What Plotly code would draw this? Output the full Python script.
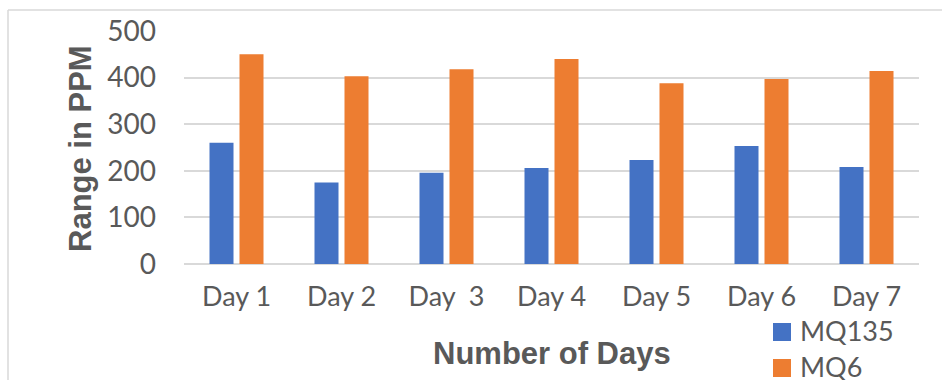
import plotly.graph_objects as go

# Daily gas readings from the two sensors
days = ["Day 1", "Day 2", "Day\u00a0 3", "Day 4", "Day 5", "Day 6", "Day 7"]
series_names = ["MQ135", "MQ6"]
mq135 = [260, 175, 196, 206, 223, 253, 208]
mq6 = [450, 403, 418, 440, 388, 397, 414]
y_ticks = [0, 100, 200, 300, 400, 500]

colors = ["#4472C4", "#ED7D31"]
text_grey = "#595959"
grid_grey = "#D9D9D9"

W, H = 942, 380
L, R, T, B = 184, 23, 31, 116
plot_w = W - L - R
plot_h = H - T - B


def px_x(px):
    return (px - L) / plot_w


def px_y(py):
    return (H - B - py) / plot_h


fig = go.Figure()
for name, vals, col in zip(series_names, [mq135, mq6], colors):
    fig.add_trace(go.Bar(x=days, y=vals, name=name, marker=dict(color=col, line=dict(width=0)),
                         showlegend=False))

fig.update_layout(
    width=W, height=H,
    margin=dict(l=L, r=R, t=T, b=B),
    paper_bgcolor="white", plot_bgcolor="white",
    barmode="group", bargap=0.4286, bargroupgap=0.2,
    font=dict(family="Lato", color=text_grey),
    xaxis=dict(showgrid=False, showline=False, ticks="", tickfont=dict(size=27, color=text_grey),
               ticklabelstandoff=14),
    yaxis=dict(range=[0, 500], tickvals=y_ticks, showgrid=True, gridcolor=grid_grey, gridwidth=1.6,
               zeroline=True, zerolinecolor=grid_grey, zerolinewidth=1.6, showline=False,
               ticks="", tickfont=dict(size=28, color=text_grey), ticklabelstandoff=27),
)

# axis titles
fig.add_annotation(text="<b>Range in PPM</b>", xref="paper", yref="paper", x=px_x(80), y=px_y(148),
                   textangle=-90, showarrow=False, xanchor="center", yanchor="middle",
                   font=dict(family="Liberation Sans", size=31, color=text_grey))
fig.add_annotation(text="<b>Number of Days</b>", xref="paper", yref="paper", x=px_x(552), y=px_y(353),
                   showarrow=False, xanchor="center", yanchor="middle",
                   font=dict(family="Liberation Sans", size=31, color=text_grey))

# legend keys
for i, (name, col) in enumerate(zip(series_names, colors)):
    top = 323 + 36 * i
    fig.add_shape(type="rect", xref="paper", yref="paper", x0=px_x(773), x1=px_x(791),
                  y0=px_y(top), y1=px_y(top + 18), fillcolor=col, line=dict(width=0))
    fig.add_annotation(text=name, xref="paper", yref="paper", x=px_x(798), y=px_y(top + 7),
                       showarrow=False, xanchor="left", yanchor="middle",
                       font=dict(family="Lato", size=27, color=text_grey))

# chart frame
fig.add_shape(type="line", xref="paper", yref="paper", x0=px_x(8), x1=px_x(8), y0=px_y(10), y1=px_y(400),
              line=dict(color=grid_grey, width=1.5))
fig.add_shape(type="line", xref="paper", yref="paper", x0=px_x(8), x1=px_x(960), y0=px_y(10), y1=px_y(10),
              line=dict(color=grid_grey, width=1.5))

fig.write_html("out.html")
